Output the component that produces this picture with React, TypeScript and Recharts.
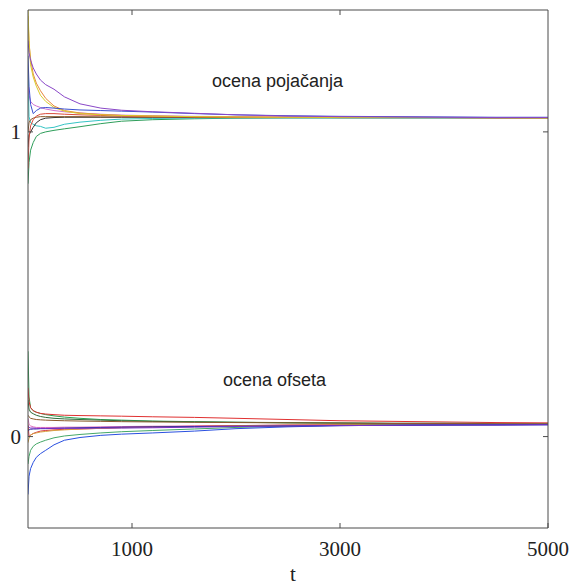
import React from "react";
import { LineChart, Line, XAxis, YAxis } from "recharts";

const T = [0, 10, 25, 50, 80, 120, 170, 250, 350, 500, 700, 900, 1200, 1600, 2000, 2500, 3000, 3500, 4000, 4500, 5000];

// estimates of gain ("ocena pojačanja")
const gYellow = [1.40, 1.30, 1.22, 1.18, 1.15, 1.12, 1.10, 1.08, 1.068, 1.06, 1.056, 1.054, 1.052, 1.05, 1.049, 1.048, 1.048, 1.047, 1.047, 1.047, 1.046];
const gPurple = [1.30, 1.26, 1.235, 1.21, 1.19, 1.17, 1.155, 1.14, 1.115, 1.092, 1.078, 1.071, 1.066, 1.061, 1.056, 1.052, 1.05, 1.049, 1.048, 1.047, 1.047];
const gOrange = [1.38, 1.29, 1.24, 1.19, 1.16, 1.135, 1.11, 1.085, 1.07, 1.062, 1.057, 1.054, 1.052, 1.05, 1.049, 1.048, 1.047, 1.047, 1.047, 1.046, 1.046];
const gBlue = [1.25, 1.15, 1.09, 1.06, 1.07, 1.078, 1.08, 1.078, 1.075, 1.072, 1.07, 1.068, 1.065, 1.06, 1.056, 1.053, 1.051, 1.05, 1.049, 1.048, 1.048];
const gCyan = [1.20, 1.05, 1.03, 1.025, 1.02, 1.018, 1.012, 1.015, 1.025, 1.032, 1.038, 1.042, 1.044, 1.045, 1.046, 1.046, 1.046, 1.046, 1.046, 1.046, 1.046];
const gGreen = [0.83, 0.90, 0.94, 0.965, 0.985, 0.995, 1.0, 1.005, 1.01, 1.017, 1.027, 1.035, 1.04, 1.043, 1.045, 1.046, 1.046, 1.046, 1.046, 1.046, 1.046];
const gBrown = [1.0, 1.03, 1.04, 1.045, 1.048, 1.05, 1.05, 1.05, 1.05, 1.05, 1.049, 1.049, 1.048, 1.048, 1.047, 1.047, 1.047, 1.047, 1.047, 1.046, 1.046];
const gRed = [0.88, 0.98, 1.02, 1.04, 1.052, 1.058, 1.06, 1.06, 1.058, 1.056, 1.054, 1.052, 1.05, 1.049, 1.048, 1.048, 1.047, 1.047, 1.047, 1.047, 1.047];
const gBlack = [0.95, 0.99, 1.0, 1.015, 1.03, 1.04, 1.045, 1.047, 1.048, 1.048, 1.048, 1.048, 1.048, 1.047, 1.047, 1.047, 1.047, 1.047, 1.047, 1.047, 1.047];
const gMagenta = [1.15, 1.12, 1.10, 1.09, 1.085, 1.08, 1.075, 1.07, 1.066, 1.062, 1.058, 1.055, 1.053, 1.051, 1.05, 1.049, 1.048, 1.048, 1.047, 1.047, 1.047];

// estimates of offset ("ocena ofseta")
const oGreen = [0.28, 0.13, 0.095, 0.085, 0.08, 0.076, 0.072, 0.068, 0.064, 0.06, 0.056, 0.054, 0.051, 0.049, 0.047, 0.045, 0.044, 0.043, 0.042, 0.042, 0.041];
const oRed = [0.16, 0.115, 0.095, 0.085, 0.08, 0.076, 0.074, 0.072, 0.07, 0.069, 0.068, 0.067, 0.065, 0.063, 0.06, 0.056, 0.052, 0.05, 0.048, 0.046, 0.045];
const oDkGreen = [0.12, 0.09, 0.08, 0.075, 0.07, 0.066, 0.063, 0.06, 0.058, 0.056, 0.054, 0.052, 0.05, 0.048, 0.047, 0.046, 0.045, 0.044, 0.044, 0.043, 0.043];
const oBrown = [0.07, 0.065, 0.06, 0.058, 0.056, 0.055, 0.054, 0.053, 0.052, 0.051, 0.05, 0.049, 0.048, 0.047, 0.046, 0.045, 0.044, 0.043, 0.043, 0.042, 0.042];
const oPink = [0.06, 0.04, 0.035, 0.032, 0.03, 0.03, 0.03, 0.03, 0.031, 0.031, 0.032, 0.033, 0.034, 0.035, 0.036, 0.037, 0.038, 0.039, 0.039, 0.04, 0.04];
const oPurple = [0.035, 0.03, 0.028, 0.028, 0.027, 0.027, 0.027, 0.027, 0.027, 0.027, 0.028, 0.028, 0.029, 0.031, 0.033, 0.035, 0.036, 0.037, 0.038, 0.038, 0.039];
const oNavy = [0.02, 0.022, 0.024, 0.025, 0.025, 0.026, 0.026, 0.027, 0.028, 0.029, 0.03, 0.031, 0.032, 0.033, 0.034, 0.035, 0.036, 0.037, 0.038, 0.038, 0.039];
const oRedLow = [0.04, 0.0, 0.005, 0.01, 0.014, 0.018, 0.02, 0.022, 0.024, 0.025, 0.027, 0.03, 0.032, 0.034, 0.036, 0.038, 0.039, 0.04, 0.04, 0.04, 0.04];
const oOrange = [-0.02, -0.005, 0.005, 0.01, 0.012, 0.015, 0.017, 0.02, 0.022, 0.025, 0.027, 0.029, 0.031, 0.033, 0.035, 0.037, 0.038, 0.039, 0.039, 0.04, 0.04];
const oGreenLow = [-0.09, -0.065, -0.045, -0.032, -0.024, -0.018, -0.012, -0.004, 0.002, 0.007, 0.012, 0.016, 0.02, 0.025, 0.03, 0.034, 0.037, 0.038, 0.039, 0.039, 0.04];
const oBlue = [-0.19, -0.13, -0.105, -0.085, -0.068, -0.056, -0.045, -0.027, -0.012, -0.003, 0.004, 0.008, 0.012, 0.018, 0.026, 0.032, 0.036, 0.037, 0.038, 0.039, 0.039];

const xTicks = [1000, 3000, 5000];
const xTopTicks = [1000, 3000];
const yTicks = [0, 1];

const series: { key: string; values: number[]; color: string }[] = [
  { key: "gGreen", values: gGreen, color: "#2e9e5a" },
  { key: "gCyan", values: gCyan, color: "#35c4c4" },
  { key: "gBlack", values: gBlack, color: "#333333" },
  { key: "gBrown", values: gBrown, color: "#8b5a2b" },
  { key: "gRed", values: gRed, color: "#d94a3a" },
  { key: "gMagenta", values: gMagenta, color: "#d070d0" },
  { key: "gOrange", values: gOrange, color: "#e8873a" },
  { key: "gYellow", values: gYellow, color: "#d9cc2a" },
  { key: "gBlue", values: gBlue, color: "#3a4fd0" },
  { key: "gPurple", values: gPurple, color: "#8a48c8" },
  { key: "oGreen", values: oGreen, color: "#2aa050" },
  { key: "oRed", values: oRed, color: "#e03030" },
  { key: "oDkGreen", values: oDkGreen, color: "#2f6b3a" },
  { key: "oBrown", values: oBrown, color: "#8b5a2b" },
  { key: "oPink", values: oPink, color: "#e070c0" },
  { key: "oRedLow", values: oRedLow, color: "#d43040" },
  { key: "oOrange", values: oOrange, color: "#d9a040" },
  { key: "oGreenLow", values: oGreenLow, color: "#45a868" },
  { key: "oBlue", values: oBlue, color: "#2a50e0" },
  { key: "oNavy", values: oNavy, color: "#2a2aa0" },
  { key: "oPurple", values: oPurple, color: "#7a30c8" },
];

const data = T.map((t, i) => {
  const row: Record<string, number> = { t };
  series.forEach((s) => {
    row[s.key] = s.values[i];
  });
  return row;
});

const AXIS = "#4a4a4a";
const TICK_FONT = "'Liberation Serif', 'DejaVu Serif', serif";
const XM = 13;
const YM = 7;

const BottomTick = (props: any) => {
  const { x, y, payload } = props;
  return (
    <g>
      <line x1={x} y1={y - XM} x2={x} y2={y - XM - 5} stroke={AXIS} />
      <text x={x} y={y} dy="0.72em" textAnchor="middle" fontFamily={TICK_FONT} fontSize={21} fill="#222">
        {payload.value}
      </text>
    </g>
  );
};

const LeftTick = (props: any) => {
  const { x, y, payload } = props;
  return (
    <g>
      <line x1={x + YM} y1={y} x2={x + YM + 5} y2={y} stroke={AXIS} />
      <text x={x} y={y} dy="0.35em" textAnchor="end" fontFamily={TICK_FONT} fontSize={21} fill="#222">
        {payload.value}
      </text>
    </g>
  );
};

const TopTick = (props: any) => {
  const { x, y } = props;
  return <line x1={x} y1={y} x2={x} y2={y + 5} stroke={AXIS} />;
};

const RightTick = (props: any) => {
  const { x, y } = props;
  return <line x1={x} y1={y} x2={x - 5} y2={y} stroke={AXIS} />;
};

export default function App() {
  return (
    <div style={{ position: "absolute", left: 0, top: 0, width: 573, height: 586, background: "#fff" }}>
      <LineChart width={573} height={586} data={data} margin={{ top: 9, right: 24, left: 27, bottom: 0 }}>
        <XAxis
          dataKey="t"
          type="number"
          domain={[0, 5000]}
          ticks={xTicks}
          interval={0}
          allowDataOverflow
          height={58}
          tickSize={0}
          tickMargin={XM}
          stroke={AXIS}
          tick={<BottomTick />}
          label={{ value: "t", position: "insideBottom", offset: 5, dx: 5, fontFamily: TICK_FONT, fontSize: 21, fill: "#222" }}
        />
        <XAxis
          xAxisId="top"
          orientation="top"
          dataKey="t"
          type="number"
          domain={[0, 5000]}
          ticks={xTopTicks}
          interval={0}
          allowDataOverflow
          height={1}
          tickSize={0}
          tickMargin={0}
          stroke={AXIS}
          tick={<TopTick />}
        />
        <YAxis
          type="number"
          domain={[-0.3, 1.4]}
          ticks={yTicks}
          interval={0}
          allowDataOverflow
          width={1}
          tickSize={0}
          tickMargin={YM}
          stroke={AXIS}
          tick={<LeftTick />}
        />
        <YAxis
          yAxisId="right"
          orientation="right"
          type="number"
          domain={[-0.3, 1.4]}
          ticks={yTicks}
          interval={0}
          allowDataOverflow
          width={1}
          tickSize={0}
          tickMargin={0}
          stroke={AXIS}
          tick={<RightTick />}
        />
        {series.map((s) => (
          <Line
            key={s.key}
            dataKey={s.key}
            type="linear"
            stroke={s.color}
            strokeWidth={1}
            dot={false}
            activeDot={false}
            isAnimationActive={false}
          />
        ))}
      </LineChart>
      <svg width={573} height={586} style={{ position: "absolute", left: 0, top: 0, pointerEvents: "none" }}>
        <text x={212} y={87} fontFamily="'Liberation Sans', Arial, sans-serif" fontSize={18} fill="#222">
          ocena pojačanja
        </text>
        <text x={223} y={386} fontFamily="'Liberation Sans', Arial, sans-serif" fontSize={18} fill="#222">
          ocena ofseta
        </text>
      </svg>
    </div>
  );
}
